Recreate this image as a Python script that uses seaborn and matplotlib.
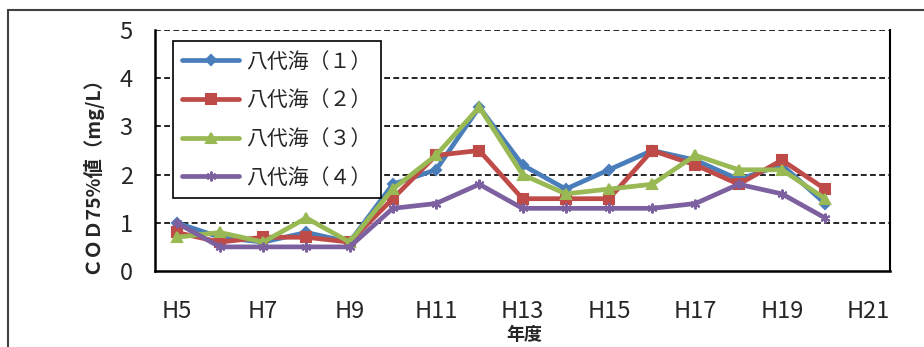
import numpy as np
import pandas as pd
import matplotlib.pyplot as plt
import seaborn as sns
from matplotlib.lines import Line2D

# fiscal years on the axis (H5 .. H21), data runs to H20
years = ['H5', 'H6', 'H7', 'H8', 'H9', 'H10', 'H11', 'H12', 'H13', 'H14',
         'H15', 'H16', 'H17', 'H18', 'H19', 'H20', 'H21']
tick_labels = ['H5', 'H7', 'H9', 'H11', 'H13', 'H15', 'H17', 'H19', 'H21']

series_names = ['八代海（１）', '八代海（２）', '八代海（３）', '八代海（４）']
yatsushiro_1 = [1.0, 0.7, 0.6, 0.8, 0.6, 1.8, 2.1, 3.4, 2.2, 1.7, 2.1, 2.5, 2.3, 1.9, 2.2, 1.4]
yatsushiro_2 = [0.8, 0.6, 0.7, 0.7, 0.6, 1.5, 2.4, 2.5, 1.5, 1.5, 1.5, 2.5, 2.2, 1.8, 2.3, 1.7]
yatsushiro_3 = [0.7, 0.8, 0.6, 1.1, 0.6, 1.7, 2.4, 3.4, 2.0, 1.6, 1.7, 1.8, 2.4, 2.1, 2.1, 1.5]
yatsushiro_4 = [1.0, 0.5, 0.5, 0.5, 0.5, 1.3, 1.4, 1.8, 1.3, 1.3, 1.3, 1.3, 1.4, 1.8, 1.6, 1.1]

colors = ['#4A7EBB', '#BE4B48', '#98B954', '#7D60A0']
markers = ['D', 's', '^', (6, 2, 0)]
marker_sizes = [5, 7, 7, 7]

# long table for seaborn
rows = []
for name, vals in zip(series_names, [yatsushiro_1, yatsushiro_2, yatsushiro_3, yatsushiro_4]):
    for i, v in enumerate(vals):
        rows.append({'series': name, 'year': years[i], 'pos': i, 'value': v})
df = pd.DataFrame(rows)

sns.set_style('white')
plt.rcParams['font.family'] = ['Liberation Sans Narrow', 'DejaVu Sans Condensed',
                               'Noto Sans CJK JP', 'DejaVu Sans']
cjk = ['Noto Sans CJK JP', 'DejaVu Sans']

fig = plt.figure(figsize=(9.24, 3.47), dpi=100)
ax = fig.add_axes([155 / 924, 1 - 271 / 347, 735 / 924, 241 / 347])

for name, c, m, ms in zip(series_names, colors, markers, marker_sizes):
    sub = df[df['series'] == name]
    sns.lineplot(data=sub, x='pos', y='value', ax=ax, color=c, linewidth=3.4,
                 marker=m, markersize=ms, markeredgecolor=c, markeredgewidth=1.5,
                 label=name, sort=False, estimator=None)

# axes limits and ticks
ax.set_xlim(-0.5, len(years) - 0.5)
ax.set_ylim(0, 5)
ax.set_xticks(np.arange(0, len(years), 2))
ax.set_xticklabels(tick_labels, fontsize=17)
ax.set_xticks(np.arange(-0.5, len(years), 1), minor=True)
ax.tick_params(axis='x', which='major', length=0, pad=21)
ax.tick_params(axis='x', which='minor', length=6, width=1.3, direction='out', color='black')
ax.set_yticks(range(0, 6))
ax.tick_params(axis='y', which='major', labelsize=17, length=8, width=1.3,
               direction='inout', color='black', pad=12)

# grid lines (dashed)
for yv in range(1, 6):
    ax.axhline(yv, color='black', linestyle=(0, (3.5, 2)), linewidth=1.2, zorder=0.5)

for side in ['left', 'bottom', 'right']:
    ax.spines[side].set_visible(True)
    ax.spines[side].set_color('black')
ax.spines['left'].set_linewidth(1.8)
ax.spines['bottom'].set_linewidth(1.8)
ax.spines['right'].set_linewidth(1.5)
ax.spines['top'].set_visible(False)

ax.set_ylabel('ＣＯＤ75%値（mg/L）', fontsize=14, fontweight='bold', family=cjk)
ax.yaxis.set_label_coords(-0.073, 0.42)
ax.set_xlabel('年度', fontsize=13, fontweight='bold', family=cjk)
ax.xaxis.set_label_coords(0.503, -0.222)

leg = ax.legend(loc='upper left', bbox_to_anchor=(0.0245, 0.954), frameon=True,
                fancybox=False, edgecolor='black', framealpha=1,
                prop={'family': cjk, 'size': 15}, handlelength=2.7,
                handletextpad=0.35, labelspacing=0.8, borderpad=0.45,
                borderaxespad=0)
leg.get_frame().set_linewidth(1.2)

# outer chart frame (cut by the image edges)
fig.add_artist(Line2D([8 / 924, 8 / 924], [0, 1 - 10 / 347], color='#404040', lw=1.5))
fig.add_artist(Line2D([8 / 924, 1], [1 - 10 / 347, 1 - 10 / 347], color='#404040', lw=1.5))

fig.savefig('out.png', dpi=100)
